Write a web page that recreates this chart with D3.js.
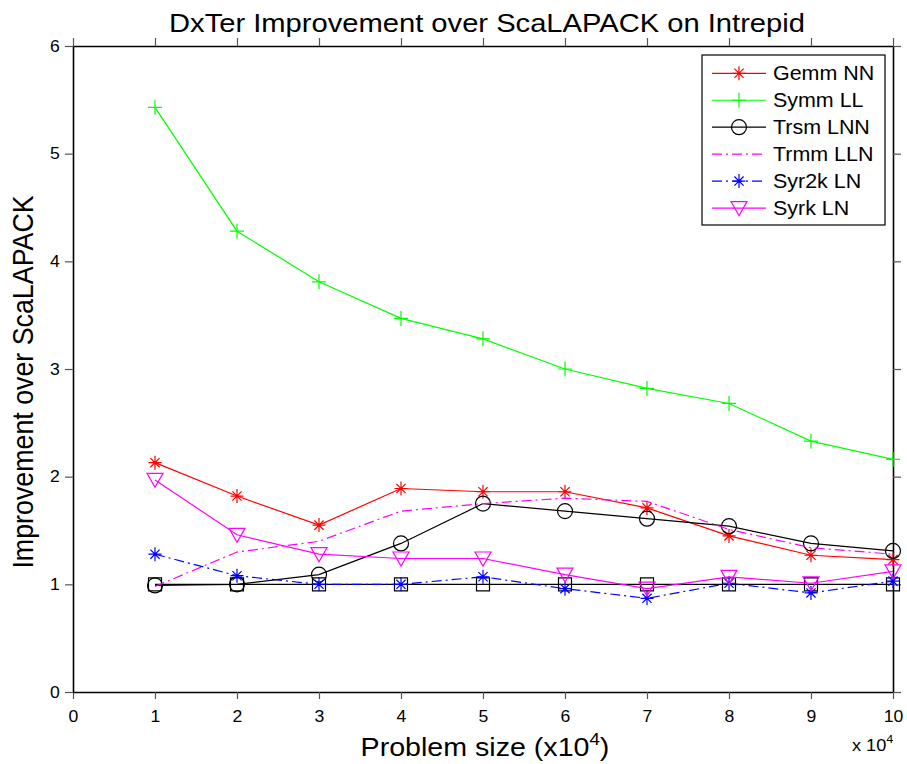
<!DOCTYPE html>
<html>
<head>
<meta charset="utf-8">
<script src="https://cdn.jsdelivr.net/npm/d3@7"></script>
<style>
  body { margin: 0; background: #fff; }
  text { font-family: "Liberation Sans", Arial, Helvetica, sans-serif; fill: #000; }
</style>
</head>
<body>
<div id="chart"></div>
<script>
// Problem sizes (x10^4) and the speedup of each routine
var sizes = [1, 2, 3, 4, 5, 6, 7, 8, 9, 10];
var gemmNN = [2.13, 1.82, 1.55, 1.89, 1.86, 1.86, 1.71, 1.45, 1.27, 1.23];
var symmLL = [5.43, 4.28, 3.81, 3.47, 3.28, 3.00, 2.82, 2.68, 2.33, 2.16];
var trsmLNN = [0.99, 1.00, 1.09, 1.38, 1.75, 1.68, 1.61, 1.54, 1.38, 1.31];
var trmmLLN = [0.98, 1.30, 1.40, 1.68, 1.75, 1.80, 1.77, 1.51, 1.34, 1.28];
var syr2kLN = [1.28, 1.08, 1.00, 1.00, 1.07, 0.96, 0.87, 1.01, 0.92, 1.03];
var syrkLN = [1.97, 1.46, 1.28, 1.24, 1.24, 1.09, 0.96, 1.07, 1.01, 1.12];
var baseline = [1, 1, 1, 1, 1, 1, 1, 1, 1, 1];

var xTicks = [0, 1, 2, 3, 4, 5, 6, 7, 8, 9, 10];
var yTicks = [0, 1, 2, 3, 4, 5, 6];

var svgWidth = 907;
var svgHeight = 764;
var margin = { top: 46, right: 14, bottom: 72, left: 73 };
var width = svgWidth - margin.left - margin.right;
var height = svgHeight - margin.top - margin.bottom;
var sx = 1.1; // the original text is a little wide

var svg = d3.select("#chart")
  .append("svg")
  .attr("width", svgWidth)
  .attr("height", svgHeight);

var chartGroup = svg.append("g")
  .attr("transform", `translate(${margin.left}, ${margin.top})`);

var xScale = d3.scaleLinear().domain([0, 10]).range([0, width]);
var yScale = d3.scaleLinear().domain([0, 6]).range([height, 0]);

// marker shapes, centred at 0,0
var markers = {
  star: "M-6.5,0H6.5M0,-7V7M-4.6,-4.6L4.6,4.6M-4.6,4.6L4.6,-4.6",
  plus: "M-7,0H7M0,-7.5V7.5",
  circle: "M7.5,0A7.5,7.5 0 1,1 -7.5,0A7.5,7.5 0 1,1 7.5,0Z",
  tri: "M-8,-6.5H8L0,7.5Z",
  square: "M-6.5,-6.5H6.5V6.5H-6.5Z"
};

var series = [
  { name: "Base", values: baseline, color: "#000", dash: null, marker: "square", legend: false },
  { name: "Gemm NN", values: gemmNN, color: "#ff0000", dash: null, marker: "star", legend: true },
  { name: "Symm LL", values: symmLL, color: "#00ff00", dash: null, marker: "plus", legend: true },
  { name: "Trsm LNN", values: trsmLNN, color: "#000", dash: null, marker: "circle", legend: true },
  { name: "Trmm LLN", values: trmmLLN, color: "#ff00ff", dash: "10,4,2,4", marker: null, legend: true },
  { name: "Syr2k LN", values: syr2kLN, color: "#0000ff", dash: "10,4,2,4", marker: "star", legend: true },
  { name: "Syrk LN", values: syrkLN, color: "#ff00ff", dash: null, marker: "tri", legend: true }
];

// axes on all four sides, ticks pointing out
var bottomAxis = d3.axisBottom(xScale).tickValues(xTicks).tickSize(7).tickSizeOuter(0)
  .tickPadding(12).tickFormat(d3.format("d"));
var topAxis = d3.axisTop(xScale).tickValues(xTicks).tickSize(8).tickSizeOuter(0).tickFormat("");
var leftAxis = d3.axisLeft(yScale).tickValues(yTicks).tickSize(8).tickSizeOuter(0)
  .tickPadding(4).tickFormat(d3.format("d"));
var rightAxis = d3.axisRight(yScale).tickValues(yTicks).tickSize(8).tickSizeOuter(0).tickFormat("");

var xAxis = chartGroup.append("g").attr("transform", `translate(0, ${height})`).call(bottomAxis);
chartGroup.append("g").call(topAxis);
var yAxis = chartGroup.append("g").call(leftAxis);
chartGroup.append("g").attr("transform", `translate(${width}, 0)`).call(rightAxis);

chartGroup.selectAll(".domain").attr("stroke", "#000").attr("stroke-width", 1.6);
chartGroup.selectAll(".tick line").attr("stroke", "#555").attr("stroke-width", 1.2);
chartGroup.selectAll(".tick text")
  .style("font-size", "16px")
  .attr("font-family", null)
  .attr("fill", "#000");
xAxis.selectAll(".tick text").attr("transform", `scale(${sx},1)`);
yAxis.selectAll(".tick text").attr("transform", `scale(${sx},1)`);

// lines
var line = d3.line()
  .x((d, i) => xScale(sizes[i]))
  .y(d => yScale(d));

var seriesGroup = chartGroup.selectAll(".series")
  .data(series)
  .enter()
  .append("g")
  .attr("class", "series");

seriesGroup.append("path")
  .attr("d", d => line(d.values))
  .attr("fill", "none")
  .attr("stroke", d => d.color)
  .attr("stroke-width", 1.2)
  .attr("stroke-dasharray", d => d.dash);

seriesGroup.filter(d => d.marker)
  .selectAll(".marker")
  .data(d => d.values.map((v, i) => ({ x: sizes[i], y: v, s: d })))
  .enter()
  .append("path")
  .attr("class", "marker")
  .attr("transform", d => `translate(${xScale(d.x)}, ${yScale(d.y)})`)
  .attr("d", d => markers[d.s.marker])
  .attr("fill", "none")
  .attr("stroke", d => d.s.color)
  .attr("stroke-width", 1.2);

// legend
var legendItems = series.filter(d => d.legend);
var legend = svg.append("g").attr("transform", "translate(702, 55)");
legend.append("rect")
  .attr("width", 183)
  .attr("height", 170)
  .attr("fill", "#fff")
  .attr("stroke", "#000")
  .attr("stroke-width", 1.2);

var rows = legend.selectAll(".row")
  .data(legendItems)
  .enter()
  .append("g")
  .attr("class", "row")
  .attr("transform", (d, i) => `translate(0, ${18.3 + i * 26.95})`);

rows.append("line")
  .attr("x1", 10).attr("x2", 64)
  .attr("stroke", d => d.color)
  .attr("stroke-width", 1.2)
  .attr("stroke-dasharray", d => d.dash);

rows.filter(d => d.marker)
  .append("path")
  .attr("transform", "translate(37, 0)")
  .attr("d", d => markers[d.marker])
  .attr("fill", "none")
  .attr("stroke", d => d.color)
  .attr("stroke-width", 1.2);

rows.append("text")
  .attr("transform", `translate(71, 7) scale(${sx},1)`)
  .style("font-size", "19.5px")
  .text(d => d.name);

// title and axis labels
svg.append("text")
  .attr("transform", `translate(487, 32) scale(${sx},1)`)
  .attr("text-anchor", "middle")
  .style("font-size", "26.5px")
  .text("DxTer Improvement over ScaLAPACK on Intrepid");

svg.append("text")
  .attr("transform", `translate(33, 382) scale(${sx},1) rotate(-90)`)
  .attr("text-anchor", "middle")
  .style("font-size", "26.8px")
  .text("Improvement over ScaLAPACK");

var xLabel = svg.append("text")
  .attr("transform", `translate(485, 756) scale(${sx},1)`)
  .attr("text-anchor", "middle")
  .style("font-size", "26px");
xLabel.append("tspan").text("Problem size (x10");
xLabel.append("tspan").attr("dy", -11).style("font-size", "17px").text("4");
xLabel.append("tspan").attr("dy", 11).text(")");

var xExp = svg.append("text")
  .attr("transform", `translate(852, 751) scale(${sx},1)`)
  .style("font-size", "16.5px");
xExp.append("tspan").text("x 10");
xExp.append("tspan").attr("dy", -8).style("font-size", "11.5px").text("4");
</script>
</body>
</html>
